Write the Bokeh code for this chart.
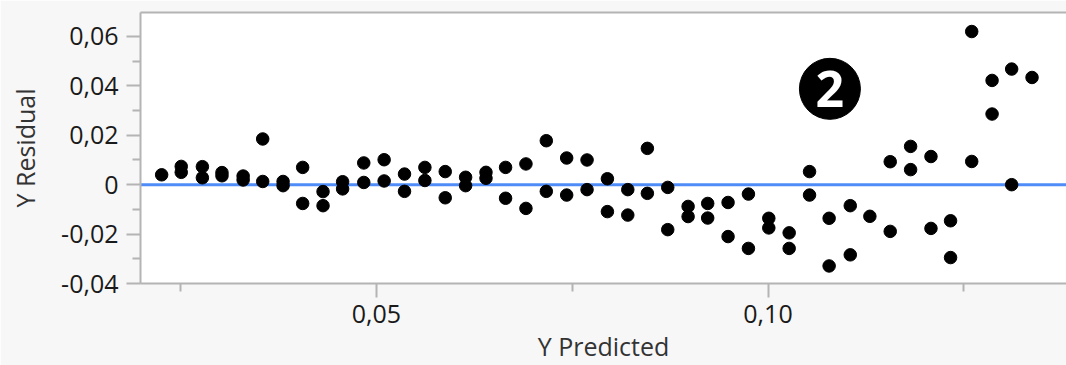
from bokeh.plotting import figure
from bokeh.models import FixedTicker, CustomJSTickFormatter, Span, LinearAxis
from bokeh.core.properties import value
from bokeh.embed import file_html
from bokeh.resources import INLINE

# Residual-by-predicted data (fitted value, residual)
y_predicted = [
    0.0226,
    0.0251, 0.0251,
    0.0278, 0.0278,
    0.0303, 0.0303,
    0.0330, 0.0330,
    0.0355, 0.0355,
    0.0381, 0.0381,
    0.0406, 0.0406,
    0.0432, 0.0432,
    0.0457, 0.0457,
    0.0484, 0.0484,
    0.0510, 0.0510,
    0.0536, 0.0536,
    0.0562, 0.0562,
    0.0588, 0.0588,
    0.0614, 0.0614,
    0.0640, 0.0640,
    0.0665, 0.0665,
    0.0691, 0.0691,
    0.0717, 0.0717,
    0.0743, 0.0743,
    0.0769, 0.0769,
    0.0795, 0.0795,
    0.0821, 0.0821,
    0.0846, 0.0846,
    0.0872, 0.0872,
    0.0898, 0.0898,
    0.0923, 0.0923,
    0.0949, 0.0949,
    0.0975, 0.0975,
    0.1001, 0.1001,
    0.1027, 0.1027,
    0.1053, 0.1053,
    0.1078, 0.1078,
    0.1105, 0.1105,
    0.1130,
    0.1156, 0.1156,
    0.1182, 0.1182,
    0.1208, 0.1208,
    0.1233, 0.1233,
    0.1260, 0.1260,
    0.1286, 0.1286,
    0.1311, 0.1311,
    0.1337,
]
y_residual = [
    0.0040,
    0.0074, 0.0050,
    0.0073, 0.0028,
    0.0049, 0.0036,
    0.0035, 0.0019,
    0.0185, 0.0013,
    0.0013, -0.0004,
    0.0070, -0.0076,
    -0.0028, -0.0085,
    0.0012, -0.0017,
    0.0088, 0.0009,
    0.0101, 0.0015,
    0.0043, -0.0027,
    0.0070, 0.0017,
    0.0053, -0.0053,
    0.0030, -0.0004,
    0.0050, 0.0026,
    0.0070, -0.0055,
    0.0084, -0.0096,
    0.0178, -0.0027,
    0.0108, -0.0042,
    0.0100, -0.0020,
    0.0024, -0.0109,
    -0.0020, -0.0123,
    0.0147, -0.0035,
    -0.0011, -0.0182,
    -0.0088, -0.0129,
    -0.0076, -0.0135,
    -0.0072, -0.0210,
    -0.0038, -0.0258,
    -0.0136, -0.0175,
    -0.0195, -0.0258,
    0.0053, -0.0042,
    -0.0136, -0.0329,
    -0.0085, -0.0284,
    -0.0128,
    0.0093, -0.0189,
    0.0155, 0.0061,
    0.0114, -0.0177,
    -0.0146, -0.0295,
    0.0620, 0.0094,
    0.0422, 0.0286,
    0.0468, 0.0000,
    0.0434,
]

y_major = [-0.04, -0.02, 0.0, 0.02, 0.04, 0.06]
y_minor = [-0.03, -0.01, 0.01, 0.03, 0.05]
x_major = [0.05, 0.10]
x_minor = [0.025, 0.075, 0.125]

# Marker for the annotated region
badge_x = [0.1079]
badge_y = [0.0388]
badge_text = ["2"]

FONT = "Open Sans"
GRAY = "#b4b4b4"

p = figure(width=1066, height=365, x_range=(0.0199, 0.1381),
           y_range=(-0.04, 0.0697), output_backend="svg",
           toolbar_location=None, min_border_left=140, min_border_right=0,
           min_border_top=12, min_border_bottom=82)
p.background_fill_color = "white"
p.border_fill_color = "#f7f7f7"
p.outline_line_color = None
p.xgrid.visible = False
p.ygrid.visible = False

fmt = CustomJSTickFormatter(code="""
    if (Math.abs(tick) < 1e-9) { return '0'; }
    return tick.toFixed(2).replace('.', ',');
""")

for ax in (p.xaxis[0], p.yaxis[0]):
    ax.formatter = fmt
    ax.axis_line_color = GRAY
    ax.axis_line_width = 2
    ax.major_tick_line_color = GRAY
    ax.major_tick_line_width = 2
    ax.minor_tick_line_color = GRAY
    ax.minor_tick_line_width = 2
    ax.major_tick_in = 0
    ax.minor_tick_in = 0
    ax.major_tick_out = 14
    ax.minor_tick_out = 8
    ax.major_label_text_font = FONT
    ax.major_label_text_font_size = "25px"
    ax.major_label_text_color = "#1a1a1a"
    ax.axis_label_text_font = FONT
    ax.axis_label_text_font_size = "25px"
    ax.axis_label_text_font_style = "normal"
    ax.axis_label_text_color = "#333333"

p.yaxis[0].ticker = FixedTicker(ticks=y_major, minor_ticks=y_minor)
p.xaxis[0].ticker = FixedTicker(ticks=x_major, minor_ticks=x_minor)
p.yaxis[0].axis_label = "Y Residual"
p.xaxis[0].axis_label = "Y Predicted"
p.yaxis[0].major_label_standoff = 8
p.xaxis[0].major_label_standoff = 7
p.yaxis[0].axis_label_standoff = 16
p.xaxis[0].axis_label_standoff = 3

# Top edge of the frame
top = LinearAxis(ticker=FixedTicker(ticks=[]), axis_line_color=GRAY,
                 axis_line_width=2, major_tick_line_color=None,
                 minor_tick_line_color=None)
p.add_layout(top, "above")

# Zero reference line
p.add_layout(Span(location=0, dimension="width", line_color="#4f8cf7",
                  line_width=3, level="underlay"))

p.scatter(y_predicted, y_residual, size=12.5, color="black")

p.scatter(badge_x, badge_y, size=61, color="black")
p.text(badge_x, badge_y, text=badge_text, text_color="white",
       text_font=value(FONT), text_font_style="bold",
       text_font_size="50px", text_align="center", text_baseline="middle")

open("out.html", "w").write(file_html(p, INLINE))
